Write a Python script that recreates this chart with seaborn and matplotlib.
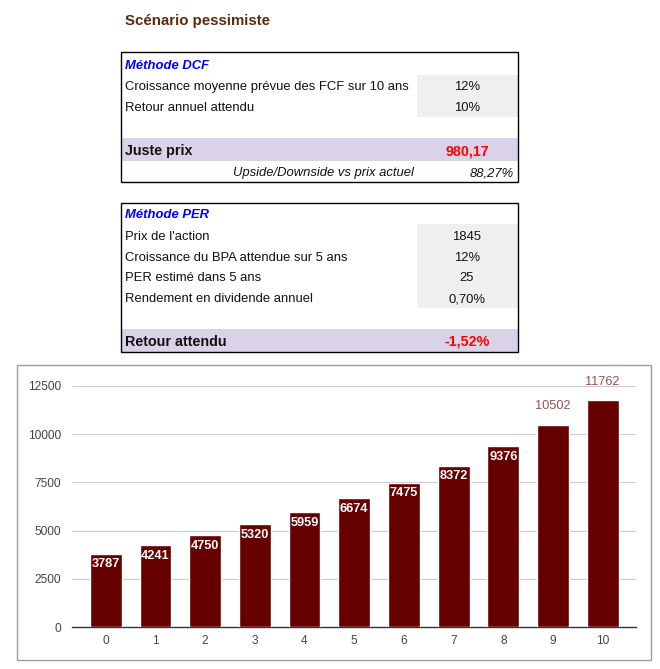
import matplotlib
matplotlib.use("Agg")
import matplotlib.pyplot as plt
import matplotlib.patches as mpatches
import seaborn as sns

# data
years = list(range(11))
fcf_values = [3787, 4241, 4750, 5320, 5959, 6674, 7475, 8372, 9376, 10502, 11762]
y_ticks = [0, 2500, 5000, 7500, 10000, 12500]

title = "Scénario pessimiste"
dcf_labels = ["Croissance moyenne prévue des FCF sur 10 ans", "Retour annuel attendu"]
dcf_inputs = ["12%", "10%"]
dcf_price = "980,17"
dcf_upside = "88,27%"
per_labels = ["Prix de l'action", "Croissance du BPA attendue sur 5 ans",
              "PER estimé dans 5 ans", "Rendement en dividende annuel"]
per_inputs = ["1845", "12%", "25", "0,70%"]
per_return = "-1,52%"

sns.set_style("white")
plt.rcParams['font.family'] = ['Liberation Sans', 'DejaVu Sans']

W, H = 660, 669
fig = plt.figure(figsize=(W / 100, H / 100), dpi=100)

# background layer in pixel coordinates (tables + chart frame)
bg = fig.add_axes([0, 0, 1, 1])
bg.set_xlim(0, W)
bg.set_ylim(H, 0)
bg.axis("off")

def rect(x0, y0, x1, y1, **kw):
    bg.add_patch(mpatches.Rectangle((x0, y0), x1 - x0, y1 - y0, **kw))

fs = 9.4
fb = 10.3
dy = 1.0
bg.text(125, 20 + dy, title, fontsize=10.8, fontweight="bold", color="#5c2a0e", va="center")

# DCF table
rect(417, 75, 518, 117, facecolor="#efefef", edgecolor="none")
rect(121, 138, 518, 161, facecolor="#d9d2e9", edgecolor="none")
rect(121, 52, 518, 182, facecolor="none", edgecolor="black", lw=1)
bg.text(125, 65 + dy, "Méthode DCF", fontsize=fs, style="italic", fontweight="bold",
        color="#0000ff", va="center")
for i, (lab, val) in enumerate(zip(dcf_labels, dcf_inputs)):
    y = 86 + i * 21 + dy
    bg.text(125, y, lab, fontsize=fs, color="#111111", va="center")
    bg.text(467, y, val, fontsize=fs, color="#111111", va="center", ha="center")
bg.text(125, 150 + dy, "Juste prix", fontsize=fb, fontweight="bold", color="#111111", va="center")
bg.text(467, 150 + dy, dcf_price, fontsize=fb, fontweight="bold", color="#ff0000",
        va="center", ha="center")
bg.text(414, 172 + dy, "Upside/Downside vs prix actuel", fontsize=fs, style="italic",
        color="#111111", va="center", ha="right")
bg.text(514, 172 + dy, dcf_upside, fontsize=fs, style="italic", color="#111111",
        va="center", ha="right")

# PER table
rect(417, 224, 518, 308, facecolor="#efefef", edgecolor="none")
rect(121, 329, 518, 352, facecolor="#d9d2e9", edgecolor="none")
rect(121, 203, 518, 352, facecolor="none", edgecolor="black", lw=1)
bg.text(125, 214 + dy, "Méthode PER", fontsize=fs, style="italic", fontweight="bold",
        color="#0000ff", va="center")
for i, (lab, val) in enumerate(zip(per_labels, per_inputs)):
    y = 236 + i * 20.7 + dy
    bg.text(125, y, lab, fontsize=fs, color="#111111", va="center")
    bg.text(467, y, val, fontsize=fs, color="#111111", va="center", ha="center")
bg.text(125, 341 + dy, "Retour attendu", fontsize=fb, fontweight="bold", color="#111111", va="center")
bg.text(467, 341 + dy, per_return, fontsize=fb, fontweight="bold", color="#ff0000",
        va="center", ha="center")

# chart frame
rect(17, 365, 651, 660, facecolor="white", edgecolor="#9e9e9e", lw=1)

# bar chart
ax = fig.add_axes([72 / W, (H - 627) / H, (636 - 72) / W, (627 - 386) / H])
ax.patch.set_alpha(0)
sns.barplot(x=years, y=fcf_values, color="#660000", width=0.64, saturation=1, ax=ax, zorder=3)
ax.set_ylim(0, 12500)
ax.set_xlim(-0.68, 10.67)
ax.set_yticks(y_ticks)
ax.yaxis.grid(True, color="#cccccc", lw=0.8, zorder=0)
ax.set_axisbelow(True)
for s in ["left", "right", "top"]:
    ax.spines[s].set_visible(False)
ax.spines["bottom"].set_color("#333333")
ax.spines["bottom"].set_linewidth(1)
ax.tick_params(axis="both", length=0, labelsize=8.6, labelcolor="#444444")
ax.tick_params(axis="y", pad=8)
ax.tick_params(axis="x", pad=6)
ax.set_xlabel("")
ax.set_ylabel("")

for i, v in enumerate(fcf_values):
    if v < 10000:
        ax.annotate(str(v), (i, v), xytext=(0, -7.5), textcoords="offset points",
                    ha="center", va="center", color="white", fontweight="bold",
                    fontsize=9.2, zorder=4)
    else:
        ax.annotate(str(v), (i, v), xytext=(0, 13), textcoords="offset points",
                    ha="center", va="center", color="#a05050", fontsize=9.2,
                    annotation_clip=False, zorder=4)

fig.savefig("out.png", dpi=100)
